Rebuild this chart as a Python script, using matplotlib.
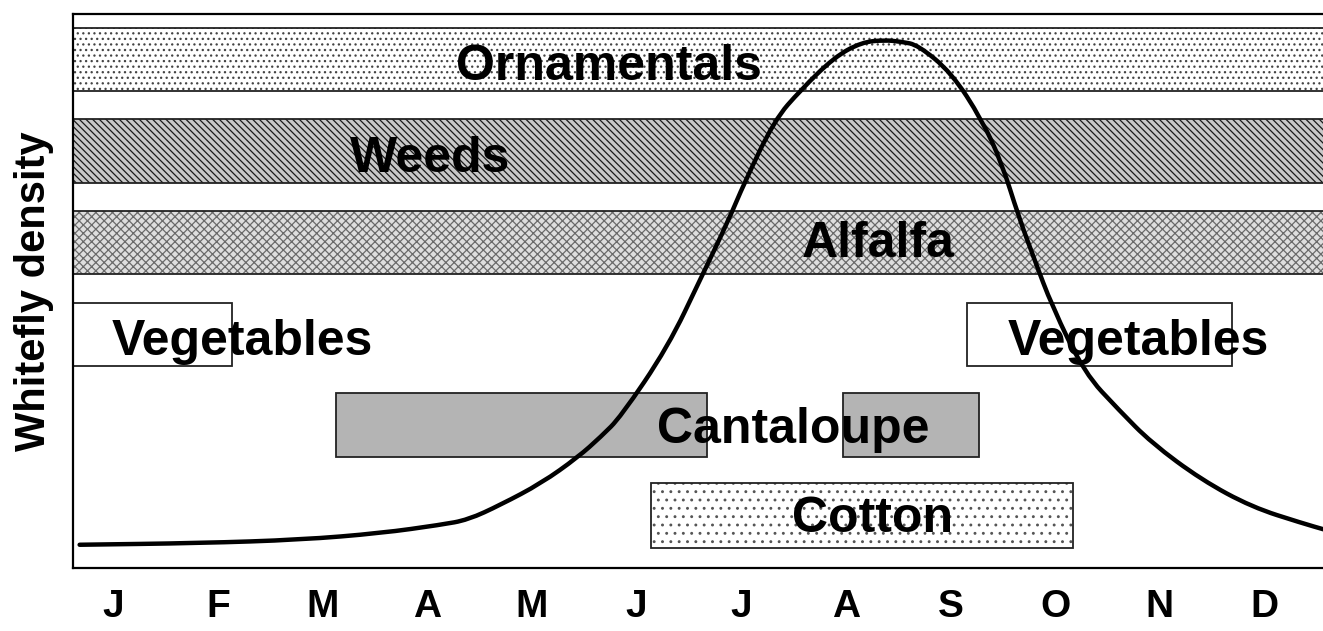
"""
Seasonal whitefly density against host crop availability
"""
import matplotlib
matplotlib.use('Agg')
import matplotlib.pyplot as plt
from matplotlib.path import Path
from matplotlib.patches import PathPatch

plt.rcParams['font.family'] = ['Liberation Sans', 'DejaVu Sans']
plt.rcParams['font.weight'] = 'bold'
plt.rcParams['hatch.linewidth'] = 0.9

months = ['J', 'F', 'M', 'A', 'M', 'J', 'J', 'A', 'S', 'O', 'N', 'D']

# host crop blocks (x in months from Jan 1, y in arbitrary density units)
crops = ['Ornamentals', 'Weeds', 'Alfalfa', 'Vegetables', 'Vegetables',
         'Cantaloupe', 'Cantaloupe', 'Cotton']
crop_start = [0.0, 0.0, 0.0, 0.0, 8.66, 2.63, 7.47, 5.64]
crop_end = [12.5, 12.5, 12.5, 1.64, 11.19, 6.17, 8.77, 9.67]
crop_low = [8.61, 6.95, 5.31, 3.65, 3.65, 2.00, 2.00, 0.36]
crop_high = [9.75, 8.10, 6.44, 4.78, 4.78, 3.16, 3.16, 1.53]

# whitefly density curve
curve_x = [0.18, 1.33, 2.29, 3.06, 3.63, 3.89, 4.20, 4.59, 4.94, 5.16,
           5.35, 5.80, 6.12, 6.38, 6.53, 6.82, 7.07, 7.39, 7.65, 7.87,
           8.03, 8.19, 8.51, 8.80, 8.99, 9.15, 9.30, 9.47, 9.78, 10.11,
           10.42, 10.90, 11.38, 11.86, 12.08]
curve_y = [0.42, 0.45, 0.51, 0.63, 0.78, 0.87, 1.14, 1.53, 2.00, 2.37,
           2.73, 3.99, 5.25, 6.28, 6.95, 8.09, 8.63, 9.22, 9.49, 9.53,
           9.50, 9.44, 8.94, 8.09, 7.31, 6.35, 5.58, 4.73, 3.52, 2.85,
           2.26, 1.59, 1.10, 0.81, 0.69]

# label placement (layout only)
label_x = [5.24, 3.53, 7.81, 1.73, 10.29, 7.00, 7.00, 7.76]
label_y = [8.81, 7.15, 5.61, 3.84, 3.84, 2.26, 2.26, 0.65]
styles = {
    'Ornamentals': dict(facecolor='white', edgecolor='#444444', hatch='...'),
    'Weeds': dict(facecolor='#c8c8c8', edgecolor='#1a1a1a',
                  hatch='\\\\\\\\\\'),
    'Alfalfa': dict(facecolor='#dedede', edgecolor='#6a6a6a', hatch='xxxx'),
    'Vegetables': dict(facecolor='white', edgecolor='white', hatch=None),
    'Cantaloupe': dict(facecolor='#b4b4b4', edgecolor='#b4b4b4', hatch=None),
    'Cotton': dict(facecolor='white', edgecolor='#555555', hatch='..'),
}

fig = plt.figure(figsize=(13.23, 6.31), dpi=100)
ax = fig.add_axes([0.0552, 0.0998, 0.952, 0.878])

for name, x0, x1, lo, hi in zip(crops, crop_start, crop_end,
                                crop_low, crop_high):
    st = styles[name]
    ax.barh((lo + hi) / 2, x1 - x0, left=x0, height=hi - lo,
            color=st['facecolor'], edgecolor=st['edgecolor'],
            hatch=st['hatch'], linewidth=0, zorder=1)
    ax.barh((lo + hi) / 2, x1 - x0, left=x0, height=hi - lo,
            fill=False, edgecolor='#222222', linewidth=1.3, zorder=2)

# draw the read points as a smooth quadratic bezier path
pts = list(zip(curve_x, curve_y))
verts = [pts[0]]
codes = [Path.MOVETO]
verts.append(((pts[0][0] + pts[1][0]) / 2, (pts[0][1] + pts[1][1]) / 2))
codes.append(Path.LINETO)
for i in range(1, len(pts) - 1):
    mid = ((pts[i][0] + pts[i + 1][0]) / 2, (pts[i][1] + pts[i + 1][1]) / 2)
    verts += [pts[i], mid]
    codes += [Path.CURVE3, Path.CURVE3]
verts.append(pts[-1])
codes.append(Path.LINETO)
ax.add_patch(PathPatch(Path(verts, codes), facecolor='none',
                       edgecolor='black', lw=3.2, capstyle='round',
                       joinstyle='round', zorder=4))

seen = set()
for name, tx, ty in zip(crops, label_x, label_y):
    if name == 'Cantaloupe' and name in seen:
        continue
    seen.add(name)
    ax.text(tx, ty, name, ha='center', va='baseline', fontsize=36,
            fontweight='bold', zorder=5)

ax.set_xlim(0.117, 12.15)
ax.set_ylim(0, 10)
ax.set_xticks([i + 0.5 for i in range(len(months))])
ax.set_xticklabels(months, fontsize=28, fontweight='bold')
ax.tick_params(axis='x', length=0, pad=15)
ax.set_yticks([])
ax.set_ylabel('Whitefly density', fontsize=30, fontweight='bold',
              labelpad=14)
for sp in ax.spines.values():
    sp.set_linewidth(1.6)

plt.savefig('out.png', dpi=100)
